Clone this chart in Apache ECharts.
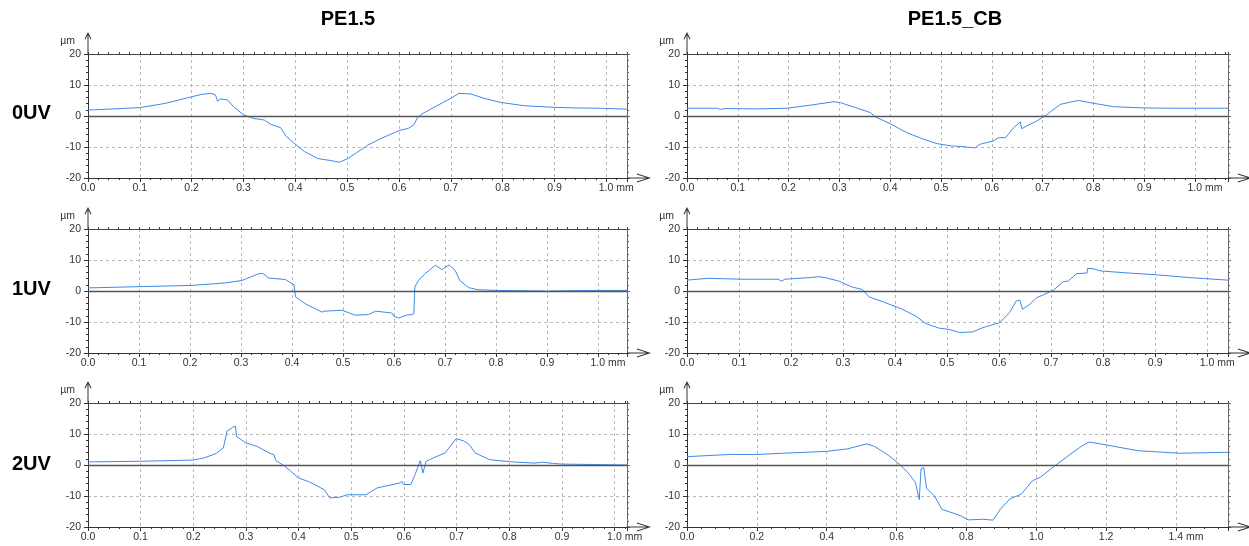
<!DOCTYPE html>
<html>
<head>
<meta charset="utf-8">
<script src="https://cdn.jsdelivr.net/npm/echarts@6/dist/echarts.min.js"></script>
<style>
  html, body { margin: 0; padding: 0; background: #ffffff; }
  #chart { width: 1249px; height: 546px; }
</style>
</head>
<body>
<div id="chart"></div>
<script>
// Surface profiles: position along the scan (mm) and height (µm)

// PE1.5, 0UV
const pe15_0uv_x = [0, 0.05, 0.1, 0.15, 0.2, 0.22, 0.237, 0.246, 0.25, 0.255, 0.269, 0.282, 0.301, 0.32, 0.34, 0.353, 0.372, 0.382, 0.398, 0.418, 0.443, 0.469, 0.485, 0.502, 0.521, 0.54, 0.566, 0.602, 0.618, 0.629, 0.632, 0.635, 0.641, 0.661, 0.7, 0.716, 0.739, 0.764, 0.796, 0.842, 0.9, 0.939, 0.99, 1.04];
const pe15_0uv_y = [1.9, 2.3, 2.7, 4.1, 6.2, 7.0, 7.3, 6.8, 4.8, 5.5, 5.2, 2.8, 0.3, -0.8, -1.3, -2.7, -3.8, -6.5, -8.8, -11.5, -13.7, -14.4, -14.9, -13.7, -11.5, -9.4, -7.2, -4.6, -4.0, -2.8, -3.1, -0.75, 0.3, 2.2, 5.7, 7.3, 7.1, 5.7, 4.4, 3.3, 2.8, 2.6, 2.5, 2.2];

// PE1.5_CB, 0UV
const pecb_0uv_x = [0, 0.06, 0.066, 0.075, 0.138, 0.197, 0.243, 0.289, 0.302, 0.33, 0.361, 0.37, 0.4, 0.433, 0.466, 0.492, 0.518, 0.544, 0.567, 0.577, 0.604, 0.613, 0.627, 0.643, 0.656, 0.659, 0.669, 0.689, 0.709, 0.715, 0.735, 0.755, 0.771, 0.8, 0.84, 0.899, 0.965, 1.065];
const pecb_0uv_y = [2.5, 2.5, 2.1, 2.4, 2.3, 2.5, 3.5, 4.6, 4.3, 2.8, 1.1, -0.2, -2.5, -5.4, -7.5, -8.9, -9.6, -9.9, -10.3, -9.1, -8.0, -7.0, -7.0, -3.8, -1.9, -4.1, -3.2, -1.6, 0.5, 1.3, 3.75, 4.5, 5.0, 4.1, 3.0, 2.6, 2.5, 2.5];

// PE1.5, 1UV
const pe15_1uv_x = [0, 0.1, 0.204, 0.269, 0.302, 0.335, 0.344, 0.354, 0.387, 0.4, 0.404, 0.407, 0.426, 0.459, 0.465, 0.498, 0.524, 0.55, 0.564, 0.596, 0.6, 0.609, 0.625, 0.635, 0.639, 0.641, 0.648, 0.661, 0.681, 0.694, 0.708, 0.72, 0.729, 0.746, 0.765, 0.798, 0.896, 0.9, 0.905, 1.0, 1.057];
const pe15_1uv_y = [1.0, 1.4, 1.8, 2.6, 3.4, 5.6, 5.6, 4.2, 3.7, 2.4, 2.0, -1.9, -4.1, -6.8, -6.5, -6.2, -7.8, -7.6, -6.5, -7.1, -8.2, -8.7, -7.8, -7.6, -7.3, 1.3, 3.4, 5.6, 8.3, 6.9, 8.4, 6.7, 3.4, 1.1, 0.4, 0.2, 0.0, -0.3, 0.0, 0.2, 0.2];

// PE1.5_CB, 1UV
const pecb_1uv_x = [0, 0.04, 0.105, 0.175, 0.182, 0.188, 0.234, 0.254, 0.266, 0.292, 0.317, 0.337, 0.35, 0.382, 0.414, 0.44, 0.459, 0.485, 0.504, 0.524, 0.549, 0.569, 0.601, 0.62, 0.633, 0.64, 0.645, 0.659, 0.672, 0.704, 0.723, 0.733, 0.749, 0.769, 0.77, 0.781, 0.794, 0.84, 0.904, 0.968, 1.04];
const pecb_1uv_y = [3.5, 4.1, 3.8, 3.8, 3.2, 3.8, 4.3, 4.6, 4.3, 3.2, 1.3, 0.5, -1.9, -3.8, -5.9, -8.1, -10.5, -12.0, -12.4, -13.4, -13.2, -11.8, -10.2, -7.0, -3.2, -3.0, -5.9, -4.3, -2.2, 0.2, 3.0, 3.2, 5.6, 5.8, 7.3, 7.2, 6.5, 5.9, 5.2, 4.3, 3.5];

// PE1.5, 2UV
const pe15_2uv_x = [0, 0.1, 0.2, 0.221, 0.243, 0.257, 0.264, 0.275, 0.28, 0.282, 0.3, 0.321, 0.346, 0.353, 0.357, 0.371, 0.385, 0.4, 0.421, 0.449, 0.459, 0.478, 0.492, 0.528, 0.549, 0.592, 0.596, 0.599, 0.613, 0.621, 0.631, 0.636, 0.642, 0.656, 0.678, 0.699, 0.713, 0.724, 0.735, 0.763, 0.806, 0.849, 0.863, 0.884, 0.899, 1.0235];
const pe15_2uv_y = [1.0, 1.2, 1.6, 2.3, 3.7, 5.5, 10.9, 12.2, 12.5, 9.2, 7.1, 6.0, 3.7, 3.3, 1.4, -0.1, -2.0, -4.2, -5.5, -8.0, -10.6, -10.4, -9.6, -9.6, -7.4, -5.8, -5.3, -6.3, -6.3, -3.1, 1.4, -2.6, 1.2, 2.3, 3.9, 8.5, 7.8, 6.6, 3.9, 1.7, 1.0, 0.6, 0.9, 0.5, 0.3, 0.0];

// PE1.5_CB, 2UV
const pecb_2uv_x = [0, 0.124, 0.2, 0.276, 0.4, 0.459, 0.514, 0.535, 0.557, 0.578, 0.611, 0.632, 0.654, 0.665, 0.67, 0.678, 0.686, 0.708, 0.73, 0.751, 0.784, 0.805, 0.849, 0.876, 0.897, 0.924, 0.957, 0.989, 1.011, 1.054, 1.086, 1.13, 1.151, 1.184, 1.292, 1.411, 1.549];
const pecb_2uv_y = [2.7, 3.4, 3.4, 3.8, 4.4, 5.2, 6.8, 6.1, 4.6, 3.0, 0.0, -2.4, -5.6, -11.2, -1.3, -0.8, -7.6, -9.9, -14.3, -15.1, -16.4, -17.7, -17.5, -17.8, -14.3, -11.0, -9.4, -5.1, -4.0, -0.2, 2.5, 6.1, 7.4, 6.8, 4.6, 3.8, 4.1];

// Axis ranges and tick steps (mm), panel order: row by row, PE1.5 then PE1.5_CB
const xMaxes = [1.04, 1.065, 1.057, 1.04, 1.0235, 1.549];
const xSteps = [0.1, 0.1, 0.1, 0.1, 0.1, 0.2];
const yMin = -20, yMax = 20, yStep = 10;

const columnTitles = ['PE1.5', 'PE1.5_CB'];
const rowLabels = ['0UV', '1UV', '2UV'];
const unitY = 'µm';
const unitX = 'mm';

const traces = [
  [pe15_0uv_x, pe15_0uv_y], [pecb_0uv_x, pecb_0uv_y],
  [pe15_1uv_x, pe15_1uv_y], [pecb_1uv_x, pecb_1uv_y],
  [pe15_2uv_x, pe15_2uv_y], [pecb_2uv_x, pecb_2uv_y]
];

// ---- layout ----
const colLeft = [88, 687];
const colRight = [622, 21];
const rowTop = [54, 229, 403];
const plotH = 124;

const FONT = 'Liberation Sans';
const LABEL_SIZE = 10.5;
const INK = '#333333';
const LINE_BLUE = '#3f8ae8';

// Open arrow heads with a stem that runs past the plot edge
const X_ARROW = 'path://M4.5,0L9,14L8,14.3L4.5,2.9L1,14.3L0,14ZM4,1L5,1L5,24L4,24Z';
const Y_ARROW = 'path://M3.5,0L7,7L6.1,7.4L3.5,2.2L0.9,7.4L0,7ZM3,1L4,1L4,22L3,22Z';

const grid = [], xAxis = [], yAxis = [], series = [];

traces.forEach(function (tr, i) {
  const r = Math.floor(i / 2), c = i % 2;
  const max = xMaxes[i], step = xSteps[i];
  const lastMajor = Math.floor(max / step + 1e-6) * step;

  grid.push({ left: colLeft[c], right: colRight[c], top: rowTop[r], height: plotH, containLabel: false });

  // bottom axis: labels, arrow, vertical grid lines
  xAxis.push({
    gridIndex: i, type: 'value', position: 'bottom', min: 0, max: max, interval: step,
    axisLine: { show: true, onZero: false, lineStyle: { color: INK, width: 1 },
      symbol: ['none', X_ARROW], symbolSize: [9, 24], symbolOffset: [0, 12] },
    axisTick: { show: true, length: 4, lineStyle: { color: INK } },
    axisLabel: {
      show: true, fontFamily: FONT, fontSize: LABEL_SIZE, color: INK, margin: 5,
      formatter: function (v) {
        if (v > lastMajor + 1e-6) return '';
        const s = v.toFixed(1);
        return Math.abs(v - lastMajor) < 1e-6 ? '{p| }' + s + ' ' + unitX : s;
      },
      rich: { p: { width: 20 } }
    },
    splitLine: { show: true, lineStyle: { color: '#b8b8b8', width: 1, type: [3, 3] } }
  });
  // bottom minor ticks
  xAxis.push({
    gridIndex: i, type: 'value', position: 'bottom', min: 0, max: max, interval: step / 5,
    axisLine: { show: false, onZero: false },
    axisTick: { show: true, length: 2, lineStyle: { color: INK } },
    axisLabel: { show: false }, splitLine: { show: false }
  });
  // top frame with ticks
  xAxis.push({
    gridIndex: i, type: 'value', position: 'top', min: 0, max: max, interval: step / 5,
    axisLine: { show: true, onZero: false, lineStyle: { color: '#444', width: 1 } },
    axisTick: { show: true, length: 2, lineStyle: { color: '#444' } },
    axisLabel: { show: false }, splitLine: { show: false }
  });

  // left axis: labels, arrow, unit, horizontal grid lines
  yAxis.push({
    gridIndex: i, type: 'value', position: 'left', min: yMin, max: yMax, interval: yStep,
    name: unitY, nameLocation: 'end', nameGap: 7,
    nameTextStyle: { fontFamily: FONT, fontSize: LABEL_SIZE, color: INK, align: 'right', verticalAlign: 'bottom', padding: [0, 13, 0, 0] },
    axisLine: { show: true, onZero: false, lineStyle: { color: INK, width: 1 },
      symbol: ['none', Y_ARROW], symbolSize: [7, 22], symbolOffset: [0, 11] },
    axisTick: { show: true, length: 4, lineStyle: { color: INK } },
    minorTick: { show: true, splitNumber: 5, length: 2, lineStyle: { color: INK } },
    axisLabel: { show: true, fontFamily: FONT, fontSize: LABEL_SIZE, color: INK, margin: 7 },
    splitLine: { show: true, lineStyle: { color: '#b8b8b8', width: 1, type: [3, 3] } }
  });
  // right frame with ticks
  yAxis.push({
    gridIndex: i, type: 'value', position: 'right', min: yMin, max: yMax, interval: yStep,
    axisLine: { show: true, onZero: false, lineStyle: { color: '#666', width: 1 } },
    axisTick: { show: true, length: 3, lineStyle: { color: '#666' } },
    minorTick: { show: true, splitNumber: 5, length: 2, lineStyle: { color: '#666' } },
    axisLabel: { show: false }, splitLine: { show: false }
  });

  series.push({
    type: 'line', xAxisIndex: 3 * i, yAxisIndex: 2 * i,
    data: tr[0].map(function (x, k) { return [x, tr[1][k]]; }),
    showSymbol: false, symbol: 'none', smooth: false,
    lineStyle: { color: LINE_BLUE, width: 1 },
    markLine: {
      silent: true, symbol: ['none', 'none'], label: { show: false }, animation: false,
      lineStyle: { color: '#555', width: 1.3, type: 'solid' },
      data: [{ yAxis: 0 }]
    },
    z: 3
  });
});

// column titles and row labels
const graphic = [];
const titleX = [348, 955];
columnTitles.forEach(function (t, c) {
  graphic.push({ type: 'text', x: titleX[c], y: 19,
    style: { text: t, font: 'bold 20px "Liberation Sans"', fill: '#000', align: 'center', verticalAlign: 'middle' } });
});
const rowY = [113, 289, 464];
rowLabels.forEach(function (t, r) {
  graphic.push({ type: 'text', x: 12, y: rowY[r],
    style: { text: t, font: 'bold 20px "Liberation Sans"', fill: '#000', align: 'left', verticalAlign: 'middle' } });
});

const chart = echarts.init(document.getElementById('chart'), null, { renderer: 'canvas' });
chart.setOption({
  animation: false,
  backgroundColor: '#ffffff',
  grid: grid, xAxis: xAxis, yAxis: yAxis, series: series,
  graphic: graphic
});
</script>
</body>
</html>
